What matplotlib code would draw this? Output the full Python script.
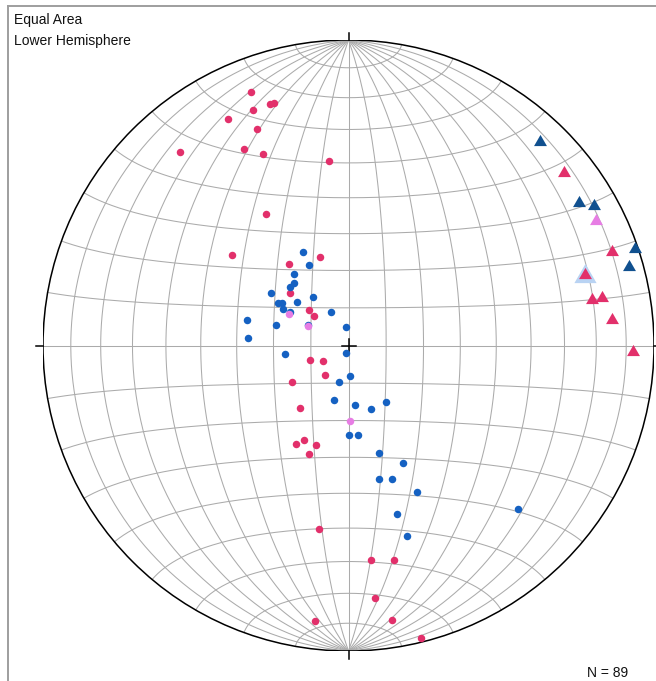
import numpy as np
import matplotlib
matplotlib.use("Agg")
import matplotlib.pyplot as plt
from matplotlib.lines import Line2D
from matplotlib.patches import Circle

plt.rcParams['font.family'] = ['Liberation Sans', 'DejaVu Sans']

# ---- line data (trend, plunge in degrees), lower hemisphere ----
pink_trend = [339, 342, 343, 338, 332, 337, 319, 332, 336, 354, 328, 308, 342, 324,
              312, 312, 311, 250, 238, 219, 237, 218, 208, 205, 198, 200, 189, 174,
              168, 174, 187, 171, 166]
pink_plunge = [12, 18, 18, 18, 17, 24, 17, 28, 32, 39, 48, 50, 65, 63,
               69, 76, 78, 79, 82, 80, 72, 69, 60, 62, 62, 59, 39, 30,
               29, 18, 10, 10, 1.5]

blue_trend = [334, 334, 323, 319, 315, 304, 301, 303, 310, 324, 299, 300, 333, 284,
              286, 297, 351, 274, 262, 197, 177, 195, 195, 174, 161, 146, 180, 174,
              164, 155, 167, 162, 155, 164, 163, 134]
blue_plunge = [62, 66, 66, 68, 68, 65, 68, 69, 72, 74, 70, 72, 80, 62,
               70, 78, 85, 63, 73, 88, 82, 80, 75, 74, 72, 72, 66, 66,
               60, 55, 53, 52, 46, 42, 35, 24]

violet_trend = [298, 295, 179]
violet_plunge = [72, 78, 70]

tri_pink_trend = [51, 70, 73, 79, 79, 84, 91]
tri_pink_plunge = [10, 9, 20, 20, 16.5, 14.5, 7.5]
tri_blue_trend = [43, 58, 60, 71, 74]
tri_blue_plunge = [9, 12, 8, 1, 5]
tri_violet_trend = [63]
tri_violet_plunge = [10]
selected = (73, 20)

n_total = 89

PINK = '#e2306b'
BLUE = '#1561c2'
NAVY = '#10508f'
VIOLET = '#e77de4'
HALO = '#b9d3f3'
GRID = '#ababab'


def project_vec(e, n, d):
    """Lambert equal-area projection of lower-hemisphere unit vectors."""
    k = 1.0 / np.sqrt(1.0 + d)
    return e * k, n * k


def project_line(trend, plunge):
    t = np.radians(np.asarray(trend, float))
    p = np.radians(np.asarray(plunge, float))
    e = np.cos(p) * np.sin(t)
    n = np.cos(p) * np.cos(t)
    d = np.sin(p)
    return project_vec(e, n, d)


W, H, DPI = 656, 681, 100
fig = plt.figure(figsize=(W / DPI, H / DPI), dpi=DPI)
cx, cy, R = 348.5, 345.5, 305.5
ax = fig.add_axes([(cx - R) / W, (H - cy - R) / H, 2 * R / W, 2 * R / H])
ax.set_xlim(-1, 1)
ax.set_ylim(-1, 1)
ax.set_aspect('auto')
ax.axis('off')

# Schmidt net: great circles through N/S and small circles about the N-S axis
t = np.linspace(-np.pi / 2, np.pi / 2, 721)
for dip in range(10, 91, 10):
    sides = (1,) if dip == 90 else (1, -1)
    for side in sides:
        ue = side * np.cos(np.radians(dip))
        ud = np.sin(np.radians(dip))
        x, y = project_vec(np.cos(t) * ue, np.sin(t), np.cos(t) * ud)
        ax.plot(x, y, color=GRID, lw=0.75, zorder=1)
s = np.linspace(0, np.pi, 721)
for a in range(10, 180, 10):
    ar = np.radians(a)
    x, y = project_vec(np.sin(ar) * np.cos(s), np.cos(ar) * np.ones_like(s),
                       np.sin(ar) * np.sin(s))
    ax.plot(x, y, color=GRID, lw=0.75, zorder=1)

# primitive circle, cardinal ticks and centre cross
ax.add_patch(Circle((0, 0), 1, fill=False, ec='black', lw=1.1, zorder=3))
tk = 7.5 / R
for (x0, y0, x1, y1) in [(0, 1, 0, 1 + tk), (0, -1, 0, -1 - tk),
                         (1, 0, 1 + tk, 0), (-1, 0, -1 - tk, 0)]:
    ax.plot([x0, x1], [y0, y1], color='black', lw=1.1, zorder=3, clip_on=False)
cr = 7 / R
ax.plot([-cr, cr], [0, 0], color='black', lw=1.1, zorder=3)
ax.plot([0, 0], [-cr, cr], color='black', lw=1.1, zorder=3)

# point data
dot_ms = 5.4
for tr, pl, col in [(pink_trend, pink_plunge, PINK),
                    (blue_trend, blue_plunge, BLUE),
                    (violet_trend, violet_plunge, VIOLET)]:
    x, y = project_line(tr, pl)
    ax.plot(x, y, 'o', ms=dot_ms, color=col, mew=0, zorder=5, clip_on=False)

tri = [(0, 0.433), (-0.5, -0.433), (0.5, -0.433)]
sx, sy = project_line([selected[0]], [selected[1]])
ax.plot(sx, sy, marker=tri, ms=16, color=HALO, mew=0, ls='none', zorder=5)
for tr, pl, col in [(tri_pink_trend, tri_pink_plunge, PINK),
                    (tri_blue_trend, tri_blue_plunge, NAVY),
                    (tri_violet_trend, tri_violet_plunge, VIOLET)]:
    x, y = project_line(tr, pl)
    ax.plot(x, y, marker=tri, ms=9.3, color=col, mew=0, ls='none', zorder=6,
            clip_on=False)

# panel frame (top and left edges)
frame_col = '#9e9e9e'
fig.add_artist(Line2D([8 / W, 1], [1 - 6 / H, 1 - 6 / H], color=frame_col, lw=1.4))
fig.add_artist(Line2D([8 / W, 8 / W], [0, 1 - 6 / H], color=frame_col, lw=1.4))

fig.text(14 / W, 1 - 24 / H, 'Equal Area', fontsize=10, color='#111111')
fig.text(14 / W, 1 - 45 / H, 'Lower Hemisphere', fontsize=10, color='#111111')
fig.text(587 / W, 1 - 677 / H, f'N = {n_total}', fontsize=10, color='#111111')

fig.savefig('out.png', dpi=DPI, facecolor='white')
